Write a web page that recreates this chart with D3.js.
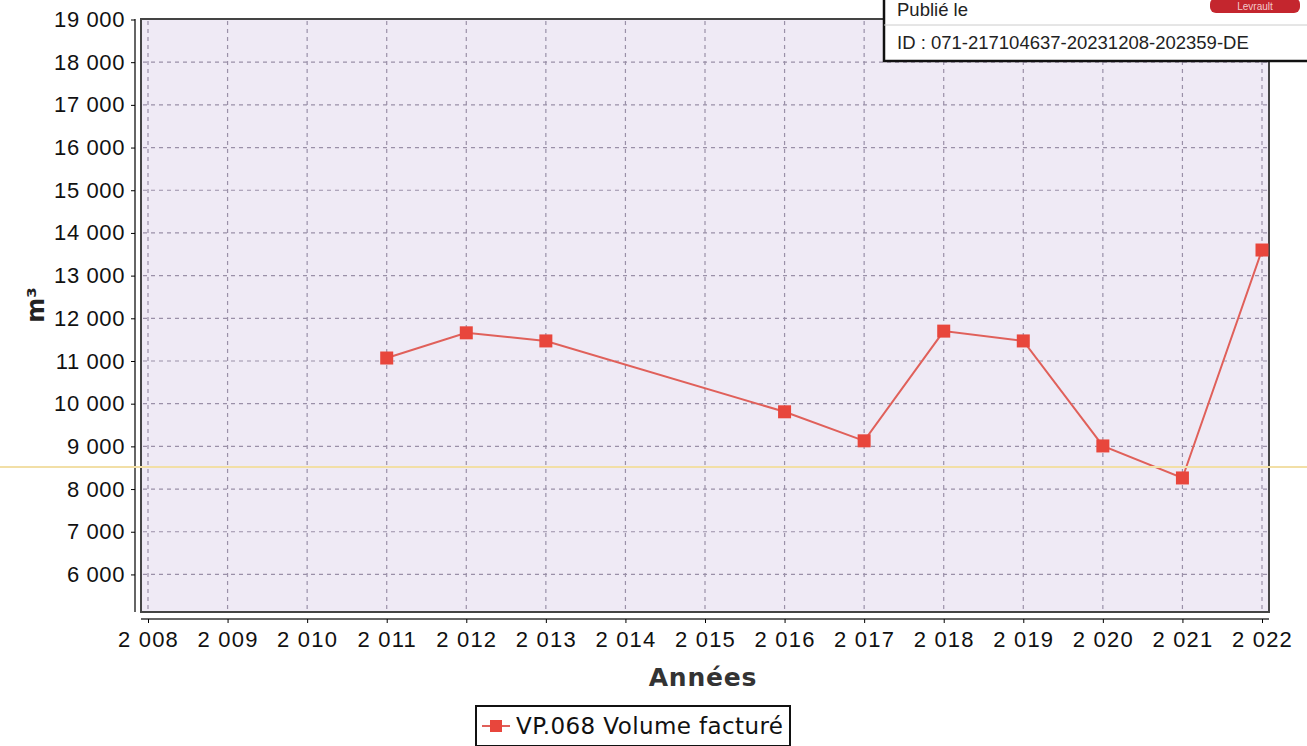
<!DOCTYPE html>
<html>
<head>
<meta charset="utf-8">
<script src="https://cdn.jsdelivr.net/npm/d3@7"></script>
<style>
  body { margin: 0; background: #fff; }
  svg { display: block; font-family: "DejaVu Sans", Verdana, sans-serif; }
</style>
</head>
<body>
<div id="chart"></div>
<script>
// data
const years = [2011, 2012, 2013, 2016, 2017, 2018, 2019, 2020, 2021, 2022]
const volumes = [11070, 11660, 11470, 9810, 9130, 11700, 11470, 9010, 8260, 13600]
const xTicks = d3.range(2008, 2023)
const yTicks = d3.range(6000, 19001, 1000)
const seriesName = "VP.068 Volume facturé"
const stampLines = ["Publié le", "ID : 071-217104637-20231208-202359-DE"]

const width = 1307, height = 746
const plot = { left: 141, right: 1269, top: 19, bottom: 612 }

const svg = d3.select("#chart").append("svg")
    .attr("width", width)
    .attr("height", height)

const x = d3.scaleLinear()
    .domain([2008, 2022])
    .range([148, 1262])

const y = d3.scaleLinear()
    .domain([5120, 19000])
    .range([plot.bottom, 19.5])

const fmt = v => d3.format(",")(v).replace(",", " ")

// plot background
svg.append("rect")
    .attr("x", plot.left)
    .attr("y", plot.top)
    .attr("width", plot.right - plot.left)
    .attr("height", plot.bottom - plot.top)
    .attr("fill", "#efeaf5")
    .attr("stroke", "#444")
    .attr("stroke-width", 2)

// grid
const grid = svg.append("g").attr("stroke", "#9a90a8").attr("stroke-dasharray", "4,4").attr("stroke-width", 1.2)
grid.selectAll("line.v")
    .data(xTicks)
    .enter()
    .append("line")
    .attr("x1", d => x(d)).attr("x2", d => x(d))
    .attr("y1", plot.top + 2).attr("y2", plot.bottom - 2)
grid.selectAll("line.h")
    .data(yTicks.filter(d => d < 19000))
    .enter()
    .append("line")
    .attr("x1", plot.left + 2).attr("x2", plot.right - 2)
    .attr("y1", d => y(d)).attr("y2", d => y(d))

// axes (offset from the plot frame)
const yAxis = svg.append("g")
    .attr("transform", "translate(135,0)")
    .call(d3.axisLeft(y).tickValues(yTicks).tickFormat(fmt).tickSize(4).tickPadding(6))
yAxis.select(".domain").attr("stroke", "#333").attr("stroke-width", 1.5)
    .attr("d", `M0,${plot.top}V${plot.bottom}`)
yAxis.selectAll("text").attr("font-size", 22).attr("letter-spacing", 0.6).attr("fill", "#111")

const xAxis = svg.append("g")
    .attr("transform", "translate(0,619)")
    .call(d3.axisBottom(x).tickValues(xTicks).tickFormat(fmt).tickSize(4).tickPadding(8))
xAxis.select(".domain").attr("stroke", "#333").attr("stroke-width", 1.5)
    .attr("d", `M${plot.left},0H${plot.right}`)
xAxis.selectAll("text").attr("font-size", 22).attr("letter-spacing", 1.2).attr("fill", "#111")

// axis titles
svg.append("text")
    .attr("transform", "translate(44,305) rotate(-90)")
    .attr("text-anchor", "middle")
    .attr("font-size", 24)
    .attr("font-weight", "bold")
    .attr("fill", "#222")
    .text("m³")

svg.append("text")
    .attr("x", 703).attr("y", 686)
    .attr("text-anchor", "middle")
    .attr("font-size", 25)
    .attr("letter-spacing", 0.8)
    .attr("font-weight", "bold")
    .attr("fill", "#333")
    .text("Années")

// series
const points = years.map((d, i) => ({ year: d, value: volumes[i] }))

svg.append("path")
    .datum(points)
    .attr("fill", "none")
    .attr("stroke", "#e0605a")
    .attr("stroke-width", 2)
    .attr("d", d3.line().x(d => x(d.year)).y(d => y(d.value)))

svg.append("g")
    .selectAll("rect")
    .data(points)
    .enter()
    .append("rect")
    .attr("x", d => x(d.year) - 6.5)
    .attr("y", d => y(d.value) - 6.5)
    .attr("width", 13).attr("height", 13)
    .attr("fill", "#e8463c")

// scan artefact line across the page
svg.append("line")
    .attr("x1", 0).attr("x2", width)
    .attr("y1", 467).attr("y2", 467)
    .attr("stroke", "#f2dfa6")
    .attr("stroke-width", 2)

// legend
const legend = svg.append("g").attr("transform", "translate(476,706)")
legend.append("rect")
    .attr("width", 314).attr("height", 40)
    .attr("fill", "#fff")
    .attr("stroke", "#111").attr("stroke-width", 2)
legend.append("line")
    .attr("x1", 6).attr("x2", 34).attr("y1", 20).attr("y2", 20)
    .attr("stroke", "#e0605a").attr("stroke-width", 2)
legend.append("rect")
    .attr("x", 14).attr("y", 14).attr("width", 12).attr("height", 12)
    .attr("fill", "#e8463c")
legend.append("text")
    .attr("x", 40).attr("y", 28)
    .attr("font-size", 23)
    .attr("letter-spacing", 0.4)
    .attr("fill", "#111")
    .text(seriesName)

// stamp box in the top right corner
const stamp = svg.append("g").attr("transform", "translate(884,-2)")
stamp.append("rect")
    .attr("width", 430).attr("height", 63)
    .attr("fill", "#fff")
    .attr("stroke", "#111").attr("stroke-width", 2.5)
stamp.append("line")
    .attr("x1", 0).attr("x2", 430).attr("y1", 27).attr("y2", 27)
    .attr("stroke", "#ccc").attr("stroke-width", 1)
stamp.selectAll("text.line")
    .data(stampLines)
    .enter()
    .append("text")
    .attr("x", 13)
    .attr("y", (d, i) => 18 + i * 33)
    .attr("font-family", "Liberation Sans, Arial, sans-serif")
    .attr("font-size", 18.5)
    .attr("fill", "#222")
    .text(d => d)
stamp.append("rect")
    .attr("x", 326).attr("y", 0).attr("width", 90).attr("height", 15)
    .attr("rx", 6)
    .attr("fill", "#c4262e")
stamp.append("text")
    .attr("x", 371).attr("y", 12)
    .attr("text-anchor", "middle")
    .attr("font-family", "Liberation Sans, Arial, sans-serif")
    .attr("font-size", 10)
    .attr("fill", "#f3c9cb")
    .text("Levrault")
</script>
</body>
</html>
